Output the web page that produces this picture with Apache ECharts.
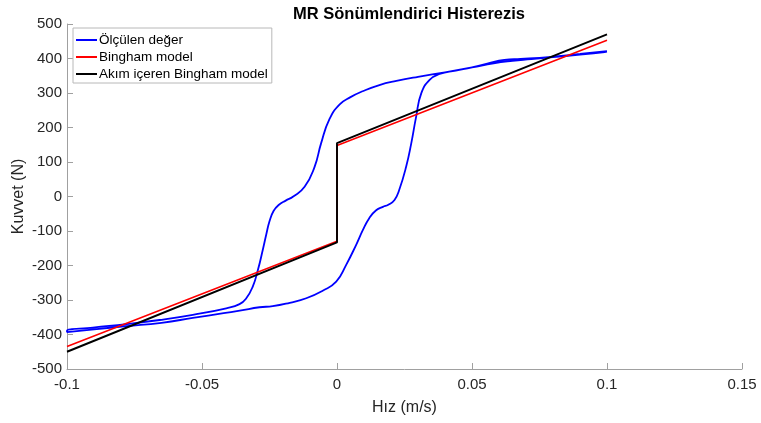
<!DOCTYPE html>
<html>
<head>
<meta charset="utf-8">
<script src="https://cdn.jsdelivr.net/npm/echarts@6/dist/echarts.min.js"></script>
<style>html,body{margin:0;padding:0;background:#fff}#c{width:761px;height:423px}</style>
</head>
<body>
<div id="c"></div>
<script>
const titleText = 'MR Sönümlendirici Histerezis';
const xName = 'Hız (m/s)';
const yName = 'Kuvvet (N)';
const seriesNames = ['Ölçülen değer', 'Bingham model', 'Akım içeren Bingham model'];

// Measured hysteresis loop: returning (upper) branch from right to left
const measuredUpperX = [0.100, 0.090, 0.080, 0.072, 0.065, 0.058, 0.050, 0.040, 0.030, 0.022, 0.0157, 0.0095, 0.005, 0.001, -0.0028, -0.0059, -0.0083, -0.012, -0.0162, -0.019, -0.0215, -0.0235, -0.025, -0.0262, -0.0275, -0.0293, -0.0312, -0.0336, -0.0361, -0.041, -0.0534, -0.0657, -0.078, -0.0904, -0.100];
const measuredUpperY = [419, 411, 404, 398, 393, 386, 374, 360, 347, 335, 323, 305, 288, 267, 224, 154, 86, 28, 0, -12, -24, -42, -72, -110, -155, -213, -261, -295, -312, -324, -343, -358, -370, -380, -389];
// Rising (lower) branch from left to right
const measuredLowerX = [-0.100, -0.090, -0.078, -0.065, -0.0534, -0.042, -0.036, -0.0287, -0.0238, -0.0175, -0.0114, -0.0053, -0.0003, 0.0034, 0.0071, 0.0096, 0.012, 0.0145, 0.017, 0.019, 0.0213, 0.023, 0.0256, 0.0275, 0.0293, 0.0312, 0.0343, 0.038, 0.044, 0.050, 0.056, 0.062, 0.068, 0.075, 0.082, 0.090, 0.100];
const measuredLowerY = [-393, -385, -376, -366, -352, -338, -331, -321, -318, -308, -295, -273, -247, -198, -140, -97, -62, -40, -30, -24, -10, 18, 86, 154, 231, 299, 338, 355, 365, 374, 386, 396, 399, 402, 407, 413, 421];

const binghamX = [-0.1, 0, 0, 0.1];
const binghamY = [-435, -130, 148, 453];
const currentBinghamX = [-0.1, 0, 0, 0.1];
const currentBinghamY = [-450, -133, 155, 470];

const xMin = -0.1, xMax = 0.15, xStep = 0.05;
const yMin = -500, yMax = 500, yStep = 100;

function pairs(xs, ys) { return xs.map((x, i) => [x, ys[i]]); }
const measured = pairs(measuredUpperX, measuredUpperY).concat(pairs(measuredLowerX, measuredLowerY));

const chart = echarts.init(document.getElementById('c'), null, {renderer: 'canvas'});
const font = 'Liberation Sans, Arial, sans-serif';
chart.setOption({
  animation: false,
  backgroundColor: '#ffffff',
  textStyle: {fontFamily: font},
  title: {
    text: titleText, left: 404, top: 1, textAlign: 'center',
    textStyle: {fontFamily: font, fontSize: 16.5, fontWeight: 'bold', color: '#000'}
  },
  legend: {
    orient: 'vertical', left: 73, top: 28,
    padding: [5, 4, 2, 3], itemGap: 3, itemWidth: 21, itemHeight: 2, icon: 'rect',
    backgroundColor: '#fff', borderColor: '#b8b8b8', borderWidth: 1, borderRadius: 0,
    textStyle: {fontFamily: font, fontSize: 13.5, color: '#000', lineHeight: 14, height: 14, padding: [0, 0, 0, -3]},
    data: seriesNames
  },
  grid: {left: 67, right: 19, top: 24, bottom: 54},
  xAxis: {
    type: 'value', min: xMin, max: xMax, interval: xStep,
    name: xName, nameLocation: 'middle', nameGap: 31, nameMoveOverlap: false,
    nameTextStyle: {fontFamily: font, fontSize: 16, color: '#262626'},
    axisLine: {onZero: false, lineStyle: {color: '#a0a0a0', width: 1}},
    axisTick: {inside: true, length: 6, lineStyle: {color: '#a0a0a0'}},
    axisLabel: {fontFamily: font, fontSize: 15, color: '#262626', margin: 8,
      formatter: v => String(+v.toFixed(2))},
    splitLine: {show: false}
  },
  yAxis: {
    type: 'value', min: yMin, max: yMax, interval: yStep,
    name: yName, nameLocation: 'middle', nameGap: 40, nameMoveOverlap: false,
    nameTextStyle: {fontFamily: font, fontSize: 16, color: '#262626'},
    axisLine: {show: true, onZero: false, lineStyle: {color: '#a0a0a0', width: 1}},
    axisTick: {show: true, inside: true, length: 6, lineStyle: {color: '#a0a0a0'}},
    axisLabel: {fontFamily: font, fontSize: 15, color: '#262626', margin: 5},
    splitLine: {show: false}
  },
  series: [
    {name: seriesNames[0], type: 'line', data: measured, symbol: 'none', smooth: 0.5,
      lineStyle: {color: '#0000ff', width: 1.8}, itemStyle: {color: '#0000ff'}},
    {name: seriesNames[1], type: 'line', data: pairs(binghamX, binghamY), symbol: 'none',
      lineStyle: {color: '#ff0000', width: 1.6}, itemStyle: {color: '#ff0000'}},
    {name: seriesNames[2], type: 'line', data: pairs(currentBinghamX, currentBinghamY), symbol: 'none',
      lineStyle: {color: '#000000', width: 1.9}, itemStyle: {color: '#000000'}}
  ]
});
</script>
</body>
</html>
